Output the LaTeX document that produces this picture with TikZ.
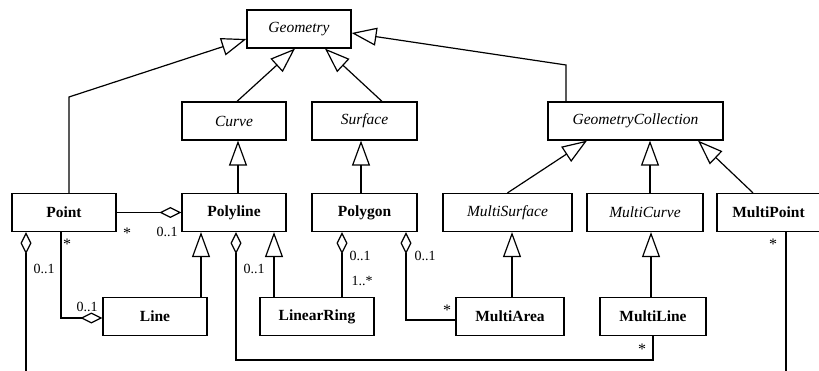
\documentclass[tikz,border=0pt]{standalone}
\usepackage{fontspec}
\setmainfont{Liberation Serif}
\usetikzlibrary{arrows.meta,calc}
\tikzset{
  box/.style={draw, line width=1.2pt, fill=white, minimum height=38pt, inner sep=0pt},
  abs/.style={box, font=\fontsize{15.5}{17}\selectfont\itshape},
  conc/.style={box, font=\fontsize{15.5}{17}\selectfont\bfseries},
  inh/.style={-{Triangle[open, length=25pt, width=18pt]}, line width=1.2pt},
  agg/.style={{Diamond[open, length=22pt, width=11pt]}-, line width=1.2pt},
  lbl/.style={font=\fontsize{14}{16}\selectfont, inner sep=0pt},
  star/.style={font=\fontsize{16}{16}\selectfont, inner sep=0pt}
}
\begin{document}
\begin{tikzpicture}[x=1pt, y=-1pt]
\useasboundingbox (0,0) rectangle (819,371);
% classes
\node[abs, minimum width=104pt] (geom) at (299,29) {Geometry};
\node[abs, minimum width=104pt] (curve) at (234,121) {Curve};
\node[abs, minimum width=105pt] (surf) at (364.5,121) {Surface};
\node[abs, minimum width=175pt] (gc) at (635.5,121) {GeometryCollection};
\node[conc, minimum width=104pt] (point) at (64,212.5) {Point};
\node[conc, minimum width=104pt] (pline) at (234,212.5) {Polyline};
\node[conc, minimum width=105pt] (pgon) at (364.5,212.5) {Polygon};
\node[abs, minimum width=129pt] (msurf) at (507.5,212.5) {MultiSurface};
\node[abs, minimum width=116pt] (mcurve) at (645,212.5) {MultiCurve};
\node[conc, minimum width=106pt] (mpoint) at (770,212.5) {\hspace*{-3pt}MultiPoint};
\node[conc, minimum width=104pt] (line) at (155,316.5) {Line};
\node[conc, minimum width=114pt] (lring) at (317,316.5) {LinearRing};
\node[conc, minimum width=108pt] (marea) at (510,316.5) {MultiArea};
\node[conc, minimum width=106pt] (mline) at (653,316.5) {MultiLine};
% generalizations
\draw[inh] ([xshift=5pt]point.north) -- ([xshift=5pt]point.north |- 0,97) -- ([yshift=-10pt]geom.west);
\draw[inh] ([xshift=3pt]curve.north) -- ([xshift=-4pt]geom.south);
\draw[inh] ([xshift=17.5pt]surf.north) -- ([xshift=26pt]geom.south);
\draw[inh] ([xshift=-69.5pt]gc.north) -- ([xshift=-69.5pt]gc.north |- 0,65) -- ([yshift=-4pt]geom.east);
\draw[inh] ([xshift=4pt]pline.north) -- ([xshift=4pt]pline.north |- curve.south);
\draw[inh] ([xshift=-3.5pt]pgon.north) -- ([xshift=-3.5pt]pgon.north |- surf.south);
\draw[inh] (msurf.north) -- ([xshift=-48.5pt]gc.south);
\draw[inh] ([xshift=5pt]mcurve.north) -- ([xshift=5pt]mcurve.north |- gc.south);
\draw[inh] ([xshift=-17pt]mpoint.north) -- ([xshift=62.5pt]gc.south);
\draw[inh] ([xshift=2pt]marea.north) -- ([xshift=2pt]marea.north |- msurf.south);
\draw[inh] ([xshift=-2pt]mline.north) -- ([xshift=-2pt]mline.north |- mcurve.south);
\draw[inh] ([xshift=46pt]line.north) -- ([xshift=46pt]line.north |- pline.south);
\draw[inh] ([xshift=-43pt]lring.north) -- ([xshift=-43pt]lring.north |- pline.south);
% aggregations
\draw[agg] (pline.west) -- (point.east);
\draw[agg] ([yshift=-1.5pt]line.west) -| ([xshift=-3pt]point.south);
\coordinate (pbot) at (26,373);
\draw[agg] ([xshift=-38pt]point.south) -- (pbot) -| ([xshift=16pt]mpoint.south);
\coordinate (lbot) at (236,360);
\draw[agg] ([xshift=2pt]pline.south) -- (lbot) -| (mline.south);
\draw[agg] ([xshift=-22.5pt]pgon.south) -- ([xshift=-22.5pt]pgon.south |- lring.north);
\coordinate (abend) at (406,320);
\draw[agg] ([xshift=41.5pt]pgon.south) -- (abend) -- ([yshift=-3.5pt]marea.west);
% multiplicities
\node[star] (m1) at (127,233) {*};
\node[lbl] (m2) at (167,232) {0..1};
\node[star] (m3) at (67,244) {*};
\node[lbl] (m4) at (44,269) {0..1};
\node[lbl] (m5) at (87,307) {0..1};
\node[lbl] (m6) at (254,269) {0..1};
\node[lbl] (m7) at (360,256) {0..1};
\node[lbl] (m8) at (362,281) {1..*};
\node[lbl] (m9) at (425,256) {0..1};
\node[star] (m10) at (447,310) {*};
\node[star] (m11) at (642,349) {*};
\node[star] (m12) at (773,244) {*};
\end{tikzpicture}
\end{document}
